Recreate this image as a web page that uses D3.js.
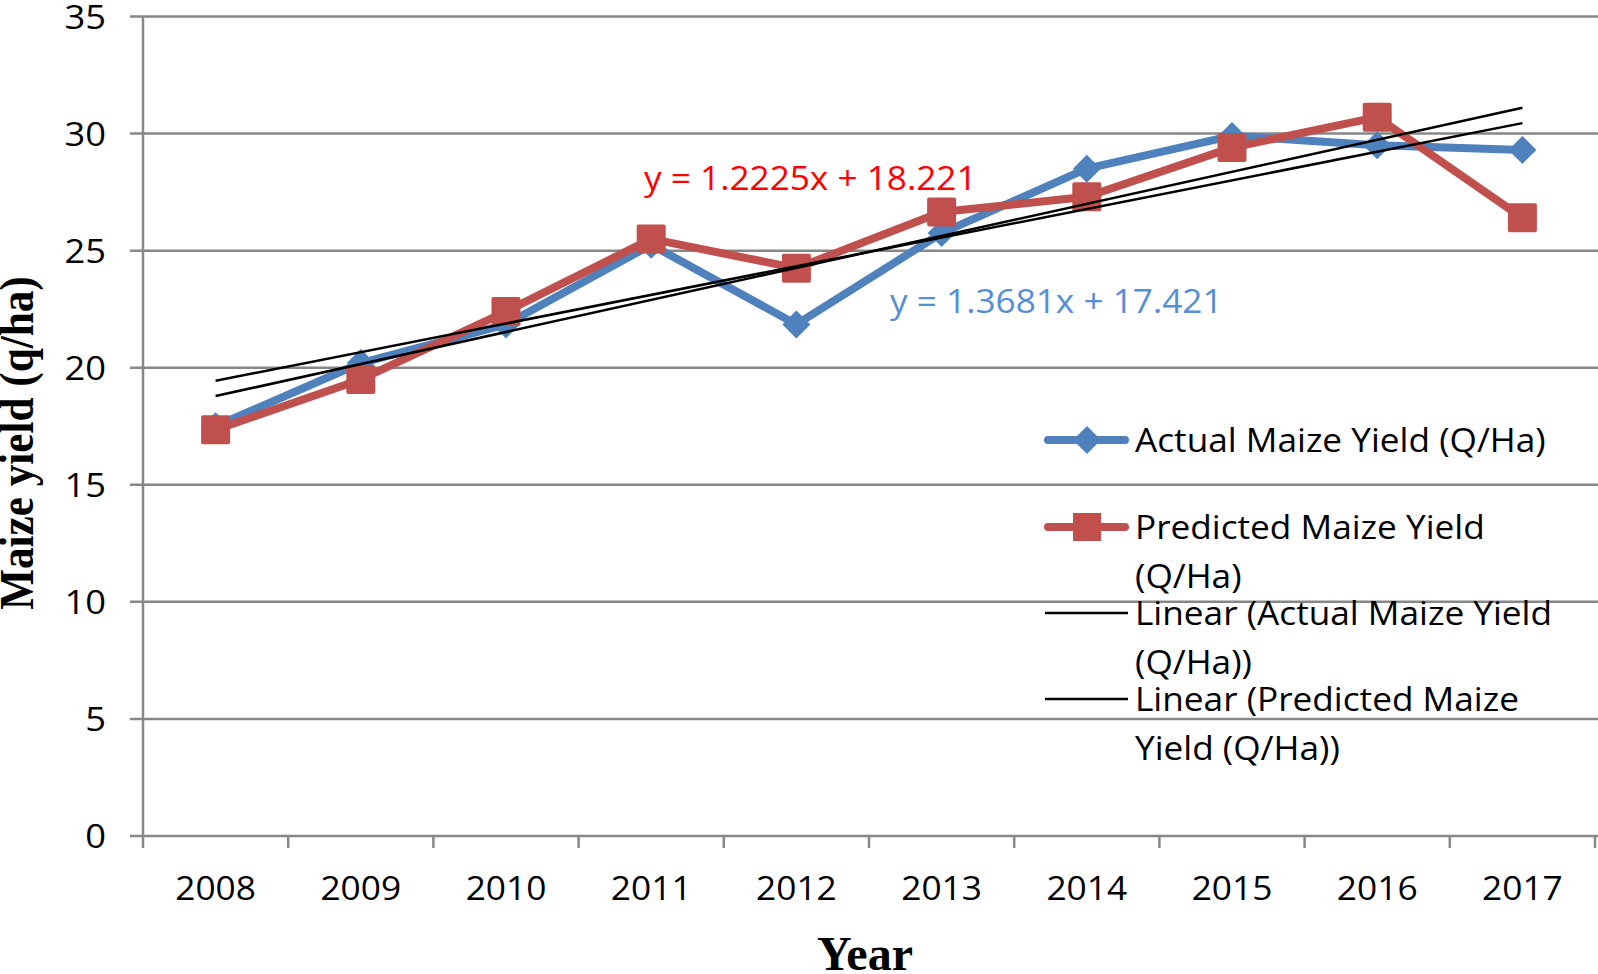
<!DOCTYPE html>
<html>
<head>
<meta charset="utf-8">
<script src="https://cdn.jsdelivr.net/npm/d3@7"></script>
<style>
  html, body { margin: 0; padding: 0; background: #fff; }
  svg { display: block; }
</style>
</head>
<body>
<svg id="chart" width="1598" height="974"></svg>
<script>
const years = ["2008","2009","2010","2011","2012","2013","2014","2015","2016","2017"];
const actualYield = [17.5, 20.2, 21.85, 25.25, 21.85, 25.75, 28.5, 29.9, 29.5, 29.3];
const predictedYield = [17.35, 19.5, 22.4, 25.5, 24.25, 26.65, 27.3, 29.4, 30.7, 26.4];
const yTicks = [0, 5, 10, 15, 20, 25, 30, 35];
const trendActual = { slope: 1.3681, intercept: 17.421, label: "y = 1.3681x + 17.421" };
const trendPredicted = { slope: 1.2225, intercept: 18.221, label: "y = 1.2225x + 18.221" };
const legendLabels = [
  ["Actual Maize Yield (Q/Ha)"],
  ["Predicted Maize Yield", "(Q/Ha)"],
  ["Linear (Actual Maize Yield", "(Q/Ha))"],
  ["Linear (Predicted Maize", "Yield (Q/Ha))"]
];
const yAxisTitle = "Maize yield (q/ha)";
const xAxisTitle = "Year";

const BLUE = "#4F81BD", RED = "#C0504D", GRID = "#878787";
const SANS = "'Open Sans', sans-serif";
const SERIF = "'Liberation Serif', 'Times New Roman', serif";
const SX = 1.1; // horizontal stretch of the sans text

const svg = d3.select("#chart");
const plotL = 143, plotR = 1595, plotT = 16.5, plotB = 836;

const x = d3.scaleBand().domain(years).range([plotL, plotR]).padding(0);
const y = d3.scaleLinear().domain([0, 35]).range([plotB, plotT]);
const cx = d => x(d) + x.bandwidth() / 2;

function sText(g, tx, ty, str, opts = {}) {
  return g.append("text")
    .attr("transform", `translate(${tx},${ty}) scale(${opts.sx || SX},1)`)
    .attr("text-anchor", opts.anchor || "start")
    .attr("font-family", opts.family || SANS)
    .attr("font-size", opts.size || 32)
    .attr("font-weight", opts.weight || "normal")
    .attr("fill", opts.fill || "#000")
    .text(str);
}

// gridlines
svg.append("g").selectAll("line").data(yTicks).join("line")
  .attr("x1", 130).attr("x2", 1598)
  .attr("y1", d => y(d)).attr("y2", d => y(d))
  .attr("stroke", GRID).attr("stroke-width", 2.5);

// y axis line
svg.append("line").attr("x1", plotL).attr("x2", plotL).attr("y1", plotT).attr("y2", plotB)
  .attr("stroke", GRID).attr("stroke-width", 2.5);

// x axis ticks at category boundaries
const bounds = years.map(d => x(d)).concat([plotR]);
svg.append("g").selectAll("line").data(bounds).join("line")
  .attr("x1", d => d).attr("x2", d => d)
  .attr("y1", plotB).attr("y2", plotB + 12)
  .attr("stroke", GRID).attr("stroke-width", 2.5);

// y tick labels
const yl = svg.append("g");
yTicks.forEach(t => sText(yl, 106, y(t) + 12, String(t), { anchor: "end", size: 33 }));

// x tick labels
const xl = svg.append("g");
years.forEach(yr => sText(xl, cx(yr), 900, yr, { anchor: "middle", size: 33, sx: 1.07 }));

// axis titles
svg.append("text")
  .attr("transform", `translate(33,443) rotate(-90) scale(0.9,1)`)
  .attr("text-anchor", "middle")
  .attr("font-family", SERIF).attr("font-weight", "bold").attr("font-size", 48)
  .text(yAxisTitle);
svg.append("text")
  .attr("x", 865).attr("y", 970)
  .attr("text-anchor", "middle")
  .attr("font-family", SERIF).attr("font-weight", "bold").attr("font-size", 48)
  .text(xAxisTitle);

// series
const line = d3.line().x(d => cx(d.year)).y(d => y(d.v));
function series(vals, color, marker) {
  const data = years.map((yr, i) => ({ year: yr, v: vals[i] }));
  const g = svg.append("g");
  g.append("path").datum(data).attr("d", line)
    .attr("fill", "none").attr("stroke", color).attr("stroke-width", 8)
    .attr("stroke-linejoin", "round").attr("stroke-linecap", "round");
  if (marker === "diamond") {
    g.selectAll("path.m").data(data).join("path").attr("class", "m")
      .attr("d", d => { const px = cx(d.year), py = y(d.v), r = 14;
        return `M${px},${py - r}L${px + r},${py}L${px},${py + r}L${px - r},${py}Z`; })
      .attr("fill", color);
  } else {
    g.selectAll("rect").data(data).join("rect")
      .attr("x", d => cx(d.year) - 14.5).attr("y", d => y(d.v) - 14.5)
      .attr("width", 29).attr("height", 29).attr("rx", 2)
      .attr("fill", color);
  }
}
series(actualYield, BLUE, "diamond");
series(predictedYield, RED, "square");

// trendlines
[trendActual, trendPredicted].forEach(t => {
  const pts = [1, years.length].map(k => ({ year: years[k - 1], v: t.slope * k + t.intercept }));
  svg.append("path").datum(pts).attr("d", line)
    .attr("fill", "none").attr("stroke", "#000").attr("stroke-width", 2.5);
});

// equation labels
sText(svg, 644, 190, trendPredicted.label, { fill: "#FF0000" });
sText(svg, 890, 313, trendActual.label, { fill: "#558ED5" });

// legend
const lg = svg.append("g");
const rows = [
  { y: 440, color: BLUE, marker: "diamond", w: 8, lines: legendLabels[0] },
  { y: 527, color: RED, marker: "square", w: 8, lines: legendLabels[1] },
  { y: 613, color: "#000", marker: null, w: 2.5, lines: legendLabels[2] },
  { y: 699, color: "#000", marker: null, w: 2.5, lines: legendLabels[3] }
];
rows.forEach(r => {
  const mx = 1087;
  lg.append("line").attr("x1", r.marker ? 1048 : 1045).attr("x2", r.marker ? 1125 : 1128)
    .attr("y1", r.y).attr("y2", r.y)
    .attr("stroke", r.color).attr("stroke-width", r.w)
    .attr("stroke-linecap", r.marker ? "round" : "butt");
  if (r.marker === "diamond") {
    lg.append("path").attr("d", `M${mx},${r.y - 14}L${mx + 14},${r.y}L${mx},${r.y + 14}L${mx - 14},${r.y}Z`).attr("fill", r.color);
  } else if (r.marker === "square") {
    lg.append("rect").attr("x", mx - 14).attr("y", r.y - 14).attr("width", 28).attr("height", 28).attr("fill", r.color);
  }
  r.lines.forEach((t, i) => sText(lg, 1135, r.y + 11.5 + i * 49, t));
});
</script>
</body>
</html>
